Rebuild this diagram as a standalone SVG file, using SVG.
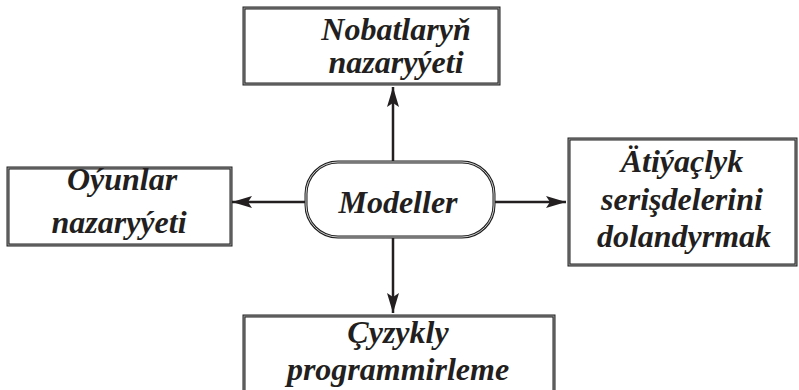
<svg xmlns="http://www.w3.org/2000/svg" width="799" height="390" viewBox="0 0 799 390">
  <style>
    .box-o { fill: #ffffff; stroke: #1e1e1e; stroke-width: 3; }
    .box-i { fill: none; stroke: #9a9a9a; stroke-width: 1; }
    .lbl { font-family: "Liberation Serif", "Times New Roman", serif; font-weight: bold; font-style: italic; font-size: 32px; fill: #231f20; text-anchor: middle; }
    .conn { stroke: #231f20; stroke-width: 2.5; fill: none; }
  </style>
  <defs>
    <marker id="ah" viewBox="0 0 20 12" refX="20" refY="6" markerWidth="20" markerHeight="12" markerUnits="userSpaceOnUse" orient="auto">
      <path d="M0,0 L20,6 L0,12 L4,6 Z" fill="#231f20"/>
    </marker>
  </defs>
  <rect width="799" height="390" fill="#ffffff"/>
  <g id="connectors">
    <line class="conn" x1="393" y1="162" x2="393" y2="87" marker-end="url(#ah)"/>
    <line class="conn" x1="306" y1="202" x2="232" y2="202" marker-end="url(#ah)"/>
    <line class="conn" x1="494" y1="202" x2="566" y2="202" marker-end="url(#ah)"/>
    <line class="conn" x1="393" y1="237" x2="393" y2="313" marker-end="url(#ah)"/>
  </g>
  <g id="node-nobat">
    <rect class="box-o" x="244" y="8" width="255" height="76"/>
    <rect class="box-i" x="244" y="8" width="255" height="76"/>
    <text class="lbl" x="396" y="40">Nobatlaryň</text>
    <text class="lbl" x="396" y="73">nazaryýeti</text>
  </g>
  <g id="node-oyun">
    <rect class="box-o" x="8" y="168" width="223" height="77"/>
    <rect class="box-i" x="8" y="168" width="223" height="77"/>
    <text class="lbl" x="122" y="190">Oýunlar</text>
    <text class="lbl" x="119" y="233">nazaryýeti</text>
  </g>
  <g id="node-model">
    <rect x="306" y="162" width="188" height="75" rx="32" ry="32" fill="#ffffff" stroke="#1e1e1e" stroke-width="3"/>
    <rect x="306" y="162" width="188" height="75" rx="32" ry="32" fill="none" stroke="#ffffff" stroke-width="0.8"/>
    <text class="lbl" x="398" y="213">Modeller</text>
  </g>
  <g id="node-atiyac">
    <rect class="box-o" x="569" y="139" width="227" height="126"/>
    <rect class="box-i" x="569" y="139" width="227" height="126"/>
    <text class="lbl" x="682" y="172">Ätiýaçlyk</text>
    <text class="lbl" x="682" y="210">serişdelerini</text>
    <text class="lbl" x="684" y="247">dolandyrmak</text>
  </g>
  <g id="node-cyzyk">
    <rect class="box-o" x="244" y="316" width="310" height="80"/>
    <rect class="box-i" x="244" y="316" width="310" height="80"/>
    <text class="lbl" x="398" y="343">Çyzykly</text>
    <text class="lbl" x="398" y="380">programmirleme</text>
  </g>
</svg>
